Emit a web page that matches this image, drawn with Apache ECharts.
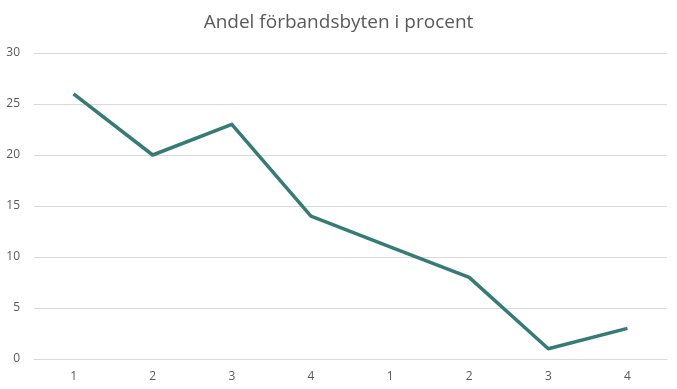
<!DOCTYPE html>
<html><head><meta charset="utf-8">
<script src="https://cdn.jsdelivr.net/npm/echarts@6/dist/echarts.min.js"></script>
<style>html,body{margin:0;padding:0;background:#fff}#c{width:677px;height:389px}</style>
</head><body><div id="c"></div>
<script>
const title = "Andel förbandsbyten i procent";
const categories = ["1","2","3","4","1","2","3","4"];
const values = [26, 20, 23, 14, 11, 8, 1, 3];
const yTicks = {min: 0, max: 30, interval: 5};

const chart = echarts.init(document.getElementById('c'));
chart.setOption({
  animation: false,
  backgroundColor: '#ffffff',
  title: {text: title, left: 'center', top: 8,
    textStyle: {fontFamily: 'Open Sans, Liberation Sans, sans-serif', fontSize: 19, fontWeight: 'normal', color: '#595959'}},
  grid: {left: 34, right: 10, top: 53, bottom: 30},
  xAxis: {type: 'category', data: categories, boundaryGap: true,
    axisLine: {show: true, lineStyle: {color: '#d9d9d9'}},
    axisTick: {show: false},
    axisLabel: {color: '#595959', fontSize: 12, margin: 12, fontFamily: 'Open Sans, Liberation Sans, sans-serif'}},
  yAxis: {type: 'value', min: yTicks.min, max: yTicks.max, interval: yTicks.interval,
    axisLine: {show: false}, axisTick: {show: false},
    splitLine: {lineStyle: {color: '#d9d9d9'}},
    axisLabel: {color: '#595959', fontSize: 12, margin: 14, fontFamily: 'Open Sans, Liberation Sans, sans-serif'}},
  series: [{type: 'line', data: values, symbol: 'none',
    lineStyle: {color: '#367b76', width: 3.5, join: 'round'}}]
});
</script></body></html>
